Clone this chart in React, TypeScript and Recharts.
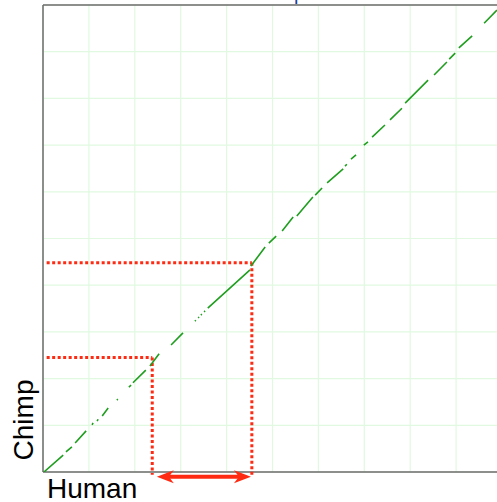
import React from 'react';
import { LineChart, Line, XAxis, YAxis, ReferenceLine } from 'recharts';

// diagonal alignment blocks, in % of chromosome length
const humanStart = [0.2, 5.0, 7.0, 10.7, 11.8, 12.9, 16.1, 18.7, 19.6, 23.3, 27.9, 33.1, 33.8, 34.4, 35.1, 35.9, 45.3, 49.2, 52.1, 55.3, 59.3, 61.9, 65.8, 67.1, 69.9, 71.7, 75.6, 78.9, 85.2, 88.5, 90.6, 96.1];
const humanEnd = [4.4, 6.3, 9.4, 10.9, 12.0, 14.2, 16.3, 19.2, 22.4, 25.3, 30.5, 33.3, 34.0, 34.6, 35.3, 45.1, 48.4, 50.8, 54.5, 58.8, 60.8, 65.4, 66.2, 68.2, 70.8, 74.5, 78.2, 83.9, 88.0, 89.8, 93.5, 98.9];
const chimpStart = [0.0, 4.3, 6.2, 10.1, 10.9, 12.0, 15.4, 18.2, 19.1, 22.7, 27.2, 32.3, 33.0, 33.6, 34.3, 35.1, 44.1, 49.0, 51.6, 54.8, 59.3, 61.9, 65.5, 67.0, 70.0, 71.7, 75.4, 79.0, 85.0, 88.4, 90.8, 96.1];
const chimpEnd = [3.6, 5.4, 8.8, 10.5, 11.3, 13.7, 15.6, 18.6, 21.8, 25.3, 29.8, 32.5, 33.2, 33.8, 34.5, 43.3, 48.2, 50.5, 54.6, 58.9, 60.8, 64.9, 65.9, 67.9, 70.7, 74.3, 77.9, 83.9, 87.8, 89.7, 93.4, 98.9];

const gridTicks = [0, 10, 20, 30, 40, 50, 60, 70, 80, 90, 100];

// highlighted regions (red boxes)
const boxHuman = [23.8, 45.5];
const boxChimp = [24.5, 44.8];
const arrowSpan = [24.8, 45.3];

const diagonal: { x: number; y: number | null }[] = [];
humanStart.forEach((hs, i) => {
  diagonal.push({ x: hs, y: chimpStart[i] });
  diagonal.push({ x: humanEnd[i], y: chimpEnd[i] });
  diagonal.push({ x: humanEnd[i] + 0.01, y: null });
});

const RED = '#ff2a12';
const GRID = '#e0f9e0';
const BORDER = '#6b6b6b';
const FONT = '"Liberation Sans", Arial, Helvetica, sans-serif';

const ArrowShape = (props: any) => {
  const { x1, y1, x2 } = props;
  const y = y1;
  return (
    <g>
      <line x1={x1 + 10} y1={y} x2={x2 - 10} y2={y} stroke={RED} strokeWidth={4} />
      <path d={`M${x1},${y} L${x1 + 17},${y - 6.5} L${x1 + 12},${y} L${x1 + 17},${y + 6.5} Z`} fill={RED} />
      <path d={`M${x2},${y} L${x2 - 17},${y - 6.5} L${x2 - 12},${y} L${x2 - 17},${y + 6.5} Z`} fill={RED} />
    </g>
  );
};

export default function App() {
  return (
    <div style={{ position: 'absolute', left: 0, top: 0, width: 497, height: 502, overflow: 'hidden', background: '#fff' }}>
      <LineChart width={510} height={502} margin={{ top: 5, right: 8, bottom: 30, left: 43 }}>
        <XAxis
          type="number"
          dataKey="x"
          domain={[0, 100]}
          allowDataOverflow
          ticks={gridTicks}
          tick={{ fill: 'transparent', fontSize: 1 }}
          tickLine={false}
          axisLine={false}
          height={0}
        />
        <YAxis
          type="number"
          domain={[0, 100]}
          allowDataOverflow
          ticks={gridTicks}
          tick={{ fill: 'transparent', fontSize: 1 }}
          tickLine={false}
          axisLine={false}
          width={0}
        />
        {/* light green grid */}
        {gridTicks.map((t) => (
          <ReferenceLine key={`gx${t}`} x={t} stroke={GRID} strokeWidth={1.2} ifOverflow="visible" />
        ))}
        {gridTicks.map((t) => (
          <ReferenceLine key={`gy${t}`} y={t} stroke={GRID} strokeWidth={1.2} ifOverflow="visible" />
        ))}
        {/* frame */}
        <ReferenceLine y={100} stroke={BORDER} strokeWidth={1.5} ifOverflow="visible" />
        <ReferenceLine y={0} stroke={BORDER} strokeWidth={1.5} ifOverflow="visible" />
        <ReferenceLine x={0} stroke={BORDER} strokeWidth={1.5} ifOverflow="visible" />

        {/* red dotted boxes */}
        <ReferenceLine segment={[{ x: 0.8, y: boxChimp[0] }, { x: boxHuman[0], y: boxChimp[0] }]} stroke={RED} strokeWidth={3} strokeDasharray="3 2.5" ifOverflow="visible" />
        <ReferenceLine segment={[{ x: boxHuman[0], y: boxChimp[0] }, { x: boxHuman[0], y: -0.6 }]} stroke={RED} strokeWidth={3} strokeDasharray="3 2.5" ifOverflow="visible" />
        <ReferenceLine segment={[{ x: 0.8, y: boxChimp[1] }, { x: boxHuman[1], y: boxChimp[1] }]} stroke={RED} strokeWidth={3} strokeDasharray="3 2.5" ifOverflow="visible" />
        <ReferenceLine segment={[{ x: boxHuman[1], y: boxChimp[1] }, { x: boxHuman[1], y: -0.6 }]} stroke={RED} strokeWidth={3} strokeDasharray="3 2.5" ifOverflow="visible" />

        <Line
          data={diagonal}
          dataKey="y"
          stroke="#1f9e1f"
          strokeWidth={1.6}
          dot={false}
          activeDot={false}
          connectNulls={false}
          isAnimationActive={false}
        />

        <ReferenceLine segment={[{ x: arrowSpan[0], y: -1 }, { x: arrowSpan[1], y: -1 }]} ifOverflow="visible" shape={ArrowShape} />
      </LineChart>

      <svg width={497} height={502} style={{ position: 'absolute', left: 0, top: 0, pointerEvents: 'none' }}>
        <text x={294} y={0} fontSize={20} fontFamily={FONT} fill="#1f3a9e">p</text>
        <text x={47} y={498} fontSize={28} fontFamily={FONT} fill="#000">Human</text>
        <text x={33} y={420} fontSize={28} fontFamily={FONT} fill="#000" textAnchor="middle" transform="rotate(-90, 33, 420)">Chimp</text>
      </svg>
    </div>
  );
}
